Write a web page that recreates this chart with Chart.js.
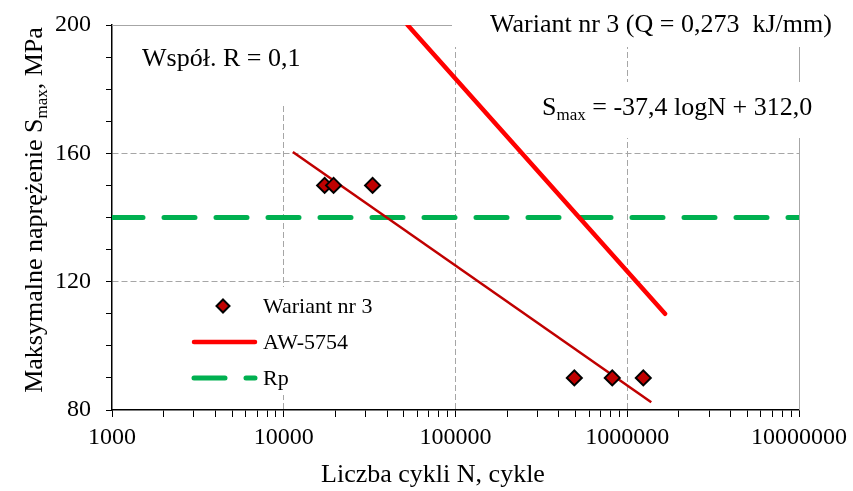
<!DOCTYPE html>
<html>
<head>
<meta charset="utf-8">
<script src="https://cdn.jsdelivr.net/npm/chart.js@4/dist/chart.umd.min.js"></script>
<style>
  html, body { margin: 0; padding: 0; background: #fff; }
  #wrap { width: 853px; height: 491px; position: relative; }
</style>
</head>
<body>
<div id="wrap"><canvas id="sn"></canvas></div>
<script>
// data
const pointsN = [17300, 19500, 32900, 492000, 818000, 1240000];
const pointsS = [150, 150, 150, 90, 90, 90];
const trendN = [11300, 1380000];
const trendS = [160.4, 82.4];
const awN = [52600, 1660000];
const awS = [200, 110];
const rpN = [1000, 10000000];
const rpS = [140, 140];

const xMajor = [1000, 10000, 100000, 1000000, 10000000];
const yLabels = [80, 120, 160, 200];

const FONT = "'Liberation Serif', 'Times New Roman', serif";
const GRID = "#a6a6a6";

// minor x ticks 2..9 of each decade
const xTicks = [];
xMajor.forEach((m, i) => {
    xTicks.push(m);
    if (i < xMajor.length - 1) {
        for (let k = 2; k <= 9; k++) xTicks.push(m * k);
    }
});

function pts(xs, ys) {
    return xs.map((x, i) => ({ x: x, y: ys[i] }));
}

// text in the plot with a sub "max"
function subText(ctx, x, y, pre, sub, post, size) {
    ctx.font = size + "px " + FONT;
    ctx.textBaseline = "alphabetic";
    ctx.textAlign = "left";
    ctx.fillText(pre, x, y);
    let w = ctx.measureText(pre).width;
    ctx.font = Math.round(size * 0.66) + "px " + FONT;
    ctx.fillText(sub, x + w, y + size * 0.2);
    w += ctx.measureText(sub).width;
    ctx.font = size + "px " + FONT;
    ctx.fillText(post, x + w, y);
}

function subWidth(ctx, pre, sub, post, size) {
    ctx.font = size + "px " + FONT;
    let w = ctx.measureText(pre).width + ctx.measureText(post).width;
    ctx.font = Math.round(size * 0.66) + "px " + FONT;
    return w + ctx.measureText(sub).width;
}

const decor = {
    id: "decor",
    beforeDatasetsDraw(chart) {
        const ctx = chart.ctx;
        const a = chart.chartArea;
        ctx.save();
        // frame top/right
        ctx.strokeStyle = GRID;
        ctx.lineWidth = 1;
        ctx.beginPath();
        ctx.moveTo(a.left, a.top + 0.5);
        ctx.lineTo(a.right + 0.5, a.top + 0.5);
        ctx.lineTo(a.right + 0.5, a.bottom);
        ctx.stroke();
        // white boxes behind text labels
        ctx.fillStyle = "#fff";
        ctx.fillRect(452, 0, 401, 47);
        ctx.fillRect(125, a.top + 1, 180, 77);
        ctx.fillRect(530, 82, 300, 56);
        ctx.fillRect(180, 287, 200, 108);
        ctx.restore();
    },
    afterDraw(chart) {
        const ctx = chart.ctx;
        const ds = chart.data.datasets;
        ctx.save();
        ctx.fillStyle = "#000";

        // title and notes
        ctx.font = "26px " + FONT;
        ctx.textAlign = "left";
        ctx.textBaseline = "alphabetic";
        ctx.fillText("Wariant nr 3 (Q = 0,273  kJ/mm)", 490, 32);
        ctx.fillText("Współ. R = 0,1", 142, 66);
        subText(ctx, 542, 115, "S", "max", " = -37,4 logN + 312,0", 26);

        // axis titles
        ctx.font = "26px " + FONT;
        ctx.textAlign = "center";
        ctx.fillText("Liczba cykli N, cykle", 433, 482);
        ctx.translate(42, 210);
        ctx.rotate(-Math.PI / 2);
        const w = subWidth(ctx, "Maksymalne naprężenie S", "max", ", MPa", 26);
        subText(ctx, -w / 2, 0, "Maksymalne naprężenie S", "max", ", MPa", 26);
        ctx.setTransform(1, 0, 0, 1, 0, 0);

        // legend
        const lx0 = 192, lx1 = 257, tx = 263;
        const rows = [306, 342, 378];
        ctx.font = "22px " + FONT;
        ctx.textAlign = "left";
        ctx.textBaseline = "middle";

        const s = ds[0];
        ctx.beginPath();
        const r = 6.5;
        ctx.moveTo(223, rows[0] - r);
        ctx.lineTo(223 + r, rows[0]);
        ctx.lineTo(223, rows[0] + r);
        ctx.lineTo(223 - r, rows[0]);
        ctx.closePath();
        ctx.fillStyle = s.backgroundColor;
        ctx.fill();
        ctx.lineWidth = 2;
        ctx.strokeStyle = s.borderColor;
        ctx.stroke();
        ctx.fillStyle = "#000";
        ctx.fillText(s.label, tx, rows[0] + 1);

        [ds[2], ds[3]].forEach((d, i) => {
            const y = rows[i + 1];
            ctx.beginPath();
            ctx.lineCap = "round";
            ctx.lineWidth = d.borderWidth;
            ctx.strokeStyle = d.borderColor;
            ctx.setLineDash(d.borderDash || []);
            ctx.moveTo(lx0 + 2, y);
            ctx.lineTo(lx1 - 2, y);
            ctx.stroke();
            ctx.setLineDash([]);
            ctx.fillStyle = "#000";
            ctx.fillText(d.label, tx, y + 1);
        });
        ctx.restore();
    }
};

new Chart(document.getElementById("sn"), {
    type: "scatter",
    data: {
        datasets: [
            {
                label: "Wariant nr 3",
                data: pts(pointsN, pointsS),
                pointStyle: "rectRot",
                pointRadius: 7.5,
                backgroundColor: "#c00000",
                borderColor: "#000",
                pointBorderWidth: 2,
                showLine: false,
                order: 0,
            },
            {
                label: "trend",
                data: pts(trendN, trendS),
                showLine: true,
                borderColor: "#c00000",
                borderWidth: 2.5,
                pointRadius: 0,
                order: 1,
            },
            {
                label: "AW-5754",
                data: pts(awN, awS),
                showLine: true,
                borderColor: "#ff0000",
                borderWidth: 4.5,
                borderCapStyle: "round",
                pointRadius: 0,
                order: 2,
            },
            {
                label: "Rp",
                data: pts(rpN, rpS),
                showLine: true,
                borderColor: "#00b050",
                borderWidth: 5,
                borderDash: [31, 21],
                borderCapStyle: "round",
                pointRadius: 0,
                order: 3,
            },
        ],
    },
    options: {
        responsive: true,
        maintainAspectRatio: false,
        animation: false,
        layout: { padding: { left: 0, right: 53, top: 25, bottom: 0 } },
        plugins: {
            legend: { display: false },
            tooltip: { enabled: false },
        },
        scales: {
            x: {
                type: "logarithmic",
                min: 1000,
                max: 10000000,
                afterBuildTicks: (scale) => {
                    scale.ticks = xTicks.map(v => ({ value: v }));
                },
                afterFit: (scale) => { scale.height = 81; },
                ticks: {
                    autoSkip: false,
                    maxRotation: 0,
                    padding: 6,
                    color: "#000",
                    font: { family: FONT, size: 24 },
                    callback: (v) => (xMajor.includes(v) ? String(v) : ""),
                },
                grid: {
                    color: (c) => {
                        const v = c.tick && c.tick.value;
                        return xMajor.includes(v) && v > 1000 && v < 10000000 ? GRID : "rgba(0,0,0,0)";
                    },
                    tickColor: "#000",
                    tickLength: 7,
                    lineWidth: 1,
                },
                border: { display: true, color: "#000", width: 1.5, dash: [6, 3] },
            },
            y: {
                min: 80,
                max: 200,
                afterFit: (scale) => {
                    scale.width = 112;
                    scale.paddingTop = 0;
                    scale.paddingBottom = 0;
                },
                ticks: {
                    stepSize: 10,
                    autoSkip: false,
                    padding: 15,
                    color: "#000",
                    font: { family: FONT, size: 24 },
                    callback: (v) => (yLabels.includes(v) ? String(v) : ""),
                },
                grid: {
                    color: (c) => {
                        const v = c.tick && c.tick.value;
                        return v === 120 || v === 160 ? GRID : "rgba(0,0,0,0)";
                    },
                    tickColor: "#000",
                    tickLength: 6,
                    lineWidth: 1,
                },
                border: { display: true, color: "#000", width: 1.5, dash: [6, 3] },
            },
        },
    },
    plugins: [decor],
});
</script>
</body>
</html>
